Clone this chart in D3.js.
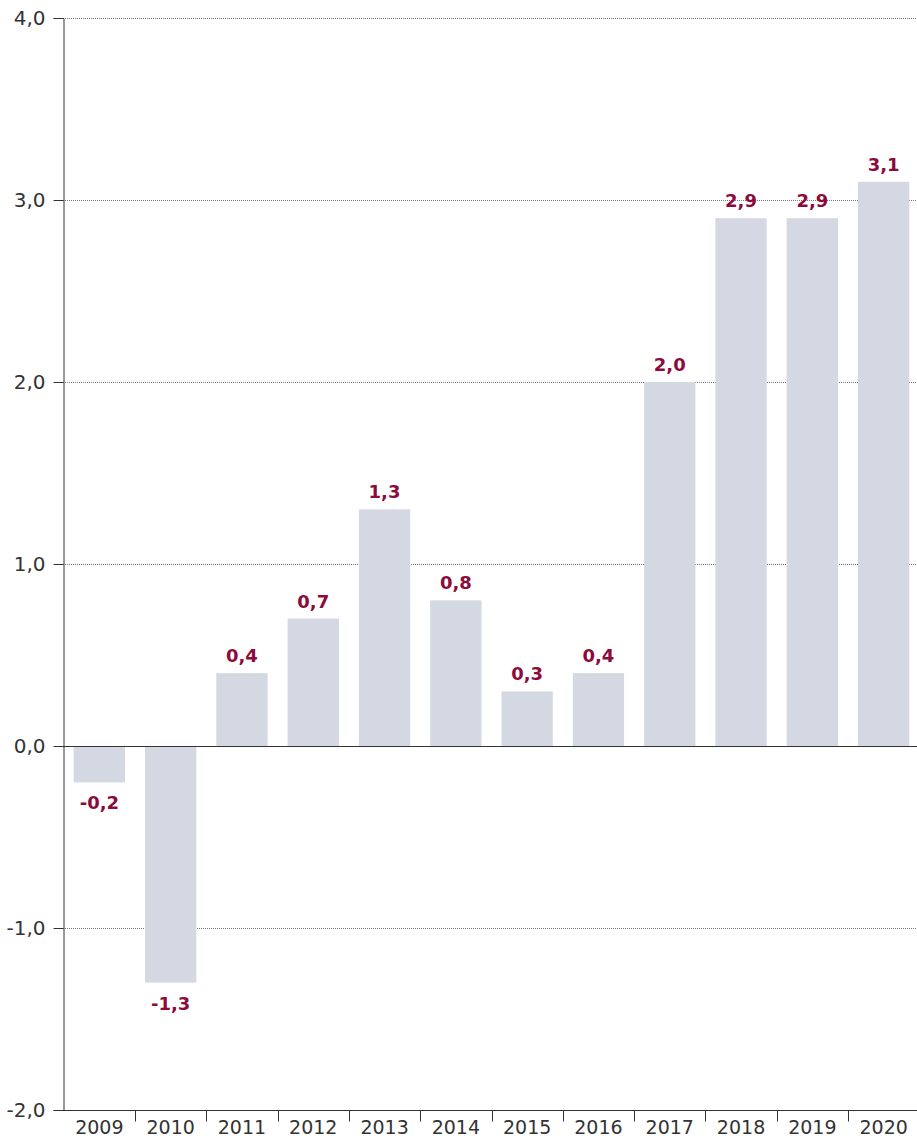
<!DOCTYPE html>
<html lang="en">
<head>
<meta charset="UTF-8">
<title>Bar chart</title>
<style>
    body { margin: 0; background: #fff; }
    svg { display: block; }
    .tick text { font-family: "DejaVu Sans", sans-serif; }
</style>
</head>
<body>
<svg id="chart" width="917" height="1140"></svg>
<script src="https://d3js.org/d3.v7.min.js"></script>
<script>
const years = ['2009', '2010', '2011', '2012', '2013', '2014', '2015', '2016', '2017', '2018', '2019', '2020'];
const values = [-0.2, -1.3, 0.4, 0.7, 1.3, 0.8, 0.3, 0.4, 2.0, 2.9, 2.9, 3.1];
const yTicks = [-2, -1, 0, 1, 2, 3, 4];

const svg = d3.select('#chart');
const margin = {left: 63, top: 18, right: -3, bottom: 30};
const width = +svg.attr('width');
const height = +svg.attr('height');

const fmt = v => d3.format('.1f')(v).replace('.', ',').replace('−', '-');

const x = d3.scaleBand()
    .domain(years)
    .range([margin.left, width - margin.right])
    .paddingInner(0.28)
    .paddingOuter(0.15);

const y = d3.scaleLinear()
    .domain([-2, 4])
    .range([height - margin.bottom, margin.top]);

// dotted gridlines
svg.append('g')
    .selectAll('line')
    .data(yTicks.filter(d => d !== 0 && d !== -2))
    .enter().append('line')
    .attr('x1', margin.left)
    .attr('x2', width)
    .attr('y1', d => y(d) + 0.5)
    .attr('y2', d => y(d) + 0.5)
    .attr('stroke', '#777')
    .attr('stroke-width', 1)
    .attr('stroke-dasharray', '1,1');

// bars
svg.append('g')
    .selectAll('rect')
    .data(years)
    .enter().append('rect')
    .attr('x', d => x(d))
    .attr('width', x.bandwidth())
    .attr('y', (d, i) => y(Math.max(0, values[i])))
    .attr('height', (d, i) => Math.abs(y(values[i]) - y(0)))
    .attr('fill', '#d4d8e3');

// zero line
svg.append('line')
    .attr('x1', margin.left)
    .attr('x2', width)
    .attr('y1', y(0) + 0.5)
    .attr('y2', y(0) + 0.5)
    .attr('stroke', '#333')
    .attr('stroke-width', 1);

// value labels
svg.append('g')
    .selectAll('text')
    .data(years)
    .enter().append('text')
    .attr('x', d => x(d) + x.bandwidth() / 2)
    .attr('y', (d, i) => values[i] >= 0 ? y(values[i]) - 11 : y(values[i]) + 27)
    .attr('text-anchor', 'middle')
    .attr('font-family', '"DejaVu Sans", sans-serif')
    .attr('font-weight', 'bold')
    .attr('font-size', 18)
    .attr('fill', '#8c0a3c')
    .text((d, i) => fmt(values[i]));

// y axis
const yAxis = svg.append('g')
    .attr('transform', `translate(${margin.left + 0.5},0)`)
    .call(d3.axisLeft(y).tickValues(yTicks).tickSize(10).tickPadding(8).tickFormat(fmt));
yAxis.select('.domain').attr('stroke', '#333');
yAxis.selectAll('.tick line').attr('stroke', '#333');
yAxis.selectAll('.tick text')
    .attr('font-size', 20)
    .attr('fill', '#333');

// x axis
const xAxis = svg.append('g')
    .attr('transform', `translate(0,${y(-2) + 0.5})`)
    .call(d3.axisBottom(x).tickSize(0).tickPadding(10));
xAxis.select('.domain').remove();
xAxis.append('line')
    .attr('x1', margin.left)
    .attr('x2', width)
    .attr('stroke', '#333');
xAxis.selectAll('.tick text')
    .attr('font-size', 19)
    .attr('fill', '#333');
// separators between years
xAxis.selectAll('.sep')
    .data(years.slice(1))
    .enter().append('line')
    .attr('class', 'sep')
    .attr('x1', d => Math.round(x(d) - x.step() * x.paddingInner() / 2) + 0.5)
    .attr('x2', d => Math.round(x(d) - x.step() * x.paddingInner() / 2) + 0.5)
    .attr('y1', 0)
    .attr('y2', 11)
    .attr('stroke', '#333');
</script>
</body>
</html>
